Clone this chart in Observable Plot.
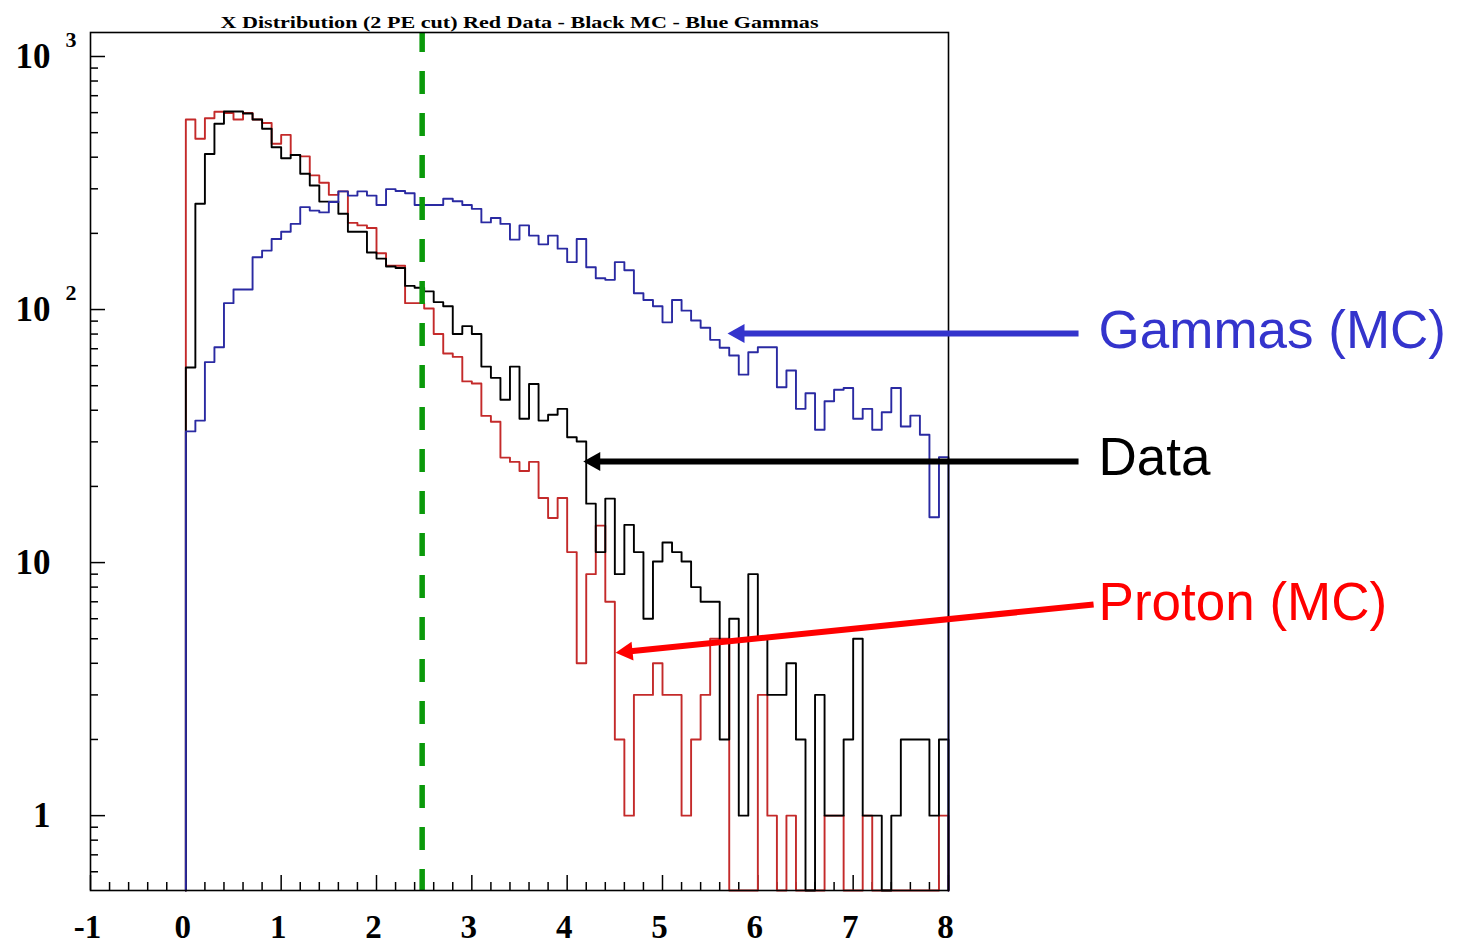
<!DOCTYPE html>
<html><head><meta charset="utf-8">
<script src="https://cdn.jsdelivr.net/npm/d3@7"></script>
<script src="https://cdn.jsdelivr.net/npm/@observablehq/plot@0.6"></script>
<style>
html,body{margin:0;padding:0;background:#fff;}
#chart{width:1464px;height:946px;overflow:hidden;}
</style></head><body><div id="chart"></div>
<script>
// ---- data (counts per 0.1-wide bin, from x = 0 to x = 8) ----
const binStart = 0;
const binWidth = 0.1;
const protonMC = [
  564, 473, 570, 605, 598, 564, 598, 564, 546, 452,
  490, 408, 403, 339, 317, 284, 293, 220, 215, 210,
  167, 149, 149, 106, 106, 101, 80, 67, 65, 52,
  51, 38, 36, 26, 25, 23, 25, 18, 15, 18,
  11, 4, 9, 14, 7, 2, 1, 3, 3, 4,
  3, 3, 1, 2, 3, 5, 5, 0, 0, 0,
  3, 1, 0, 1, 0, 0, 0, 1, 1, 0,
  0, 1, 0, 0, 0, 0, 0, 0, 0, 1
];
const dataCounts = [
  59, 262, 412, 542, 606, 606, 595, 564, 518, 438,
  396, 408, 344, 309, 267, 267, 239, 203, 203, 168,
  159, 148, 146, 124, 122, 118, 107, 103, 80, 86,
  80, 59.5, 53.7, 44, 59.5, 37, 50.8, 36.4, 38.4, 40.5,
  31.3, 30.1, 17.1, 11, 17.9, 9, 14.1, 11, 6, 10.1,
  12, 11, 10.1, 8, 7, 7, 2, 6, 1, 9,
  5, 3, 3, 4, 2, 0, 3, 1, 1, 2,
  5, 1, 1, 0, 1, 2, 2, 2, 1, 2
];
const gammasMC = [
  33, 36.4, 62, 71, 106, 120, 120, 161, 171, 190,
  203, 218, 254, 246, 242, 266, 293, 282, 293, 282,
  259, 299, 294, 288, 259, 259, 259, 274, 268, 259,
  250, 221, 230, 218, 189, 215, 196, 181, 196, 174,
  154, 190, 147, 133, 131, 154, 143, 116, 109, 103,
  89, 109, 99, 90.5, 84.7, 75.9, 70.6, 65.8, 55.3, 67.8,
  71, 71, 49.3, 57.4, 40.5, 46.7, 33.5, 43.4, 48.2, 49,
  37, 40.5, 33.5, 39.3, 49, 34.5, 38.1, 32, 15.1, 26.1
];
const cutX = [2.5];

const titleText = "X Distribution (2 PE cut) Red Data - Black MC - Blue Gammas";
const xDomain = [-1, 8];
const yDomain = [0.506, 1244];
const xMajor = [-1, 0, 1, 2, 3, 4, 5, 6, 7, 8];
const xTickLabels = ["-1", "0", "1", "2", "3", "4", "5", "6", "7", "8"];
const yMajor = [1, 10, 100, 1000];
const yTickBase = ["1", "10", "10", "10"];
const yTickExp = ["", "", "2", "3"];
const yMinor = [0.6, 0.7, 0.8, 0.9, 2, 3, 4, 5, 6, 7, 8, 9, 20, 30, 40, 50, 60, 70, 80, 90, 200, 300, 400, 500, 600, 700, 800, 900];
const xMinor = d3.range(-10, 81, 2).filter(k => k % 10 !== 0).map(k => k / 10);

// annotations (data coordinates)
const annLabels = ["Gammas (MC)", "Data", "Proton (MC)"];
const annColors = ["#3434cc", "#000000", "#ff0000"];
const annX = [9.574, 9.574, 9.574];
const annY = [82.6, 25.8, 6.95];
const arrowTailX = [9.364, 9.364, 9.522];
const arrowTailY = [80.4, 25.1, 6.83];
const arrowTipX = [5.682, 4.169, 4.508];
const arrowTipY = [80.4, 25.1, 4.40];
const arrowAngle = [180, 180, 174.2];

// ---- build step outlines ----
const floor = yDomain[0];
function steps(values) {
  const pts = [{x: binStart, y: floor}];
  values.forEach((v, i) => pts.push({x: binStart + i * binWidth, y: v > 0 ? v : floor}));
  const end = binStart + values.length * binWidth;
  pts.push({x: end, y: values[values.length - 1] > 0 ? values[values.length - 1] : floor});
  pts.push({x: end, y: floor});
  return pts;
}

const serif = "'Liberation Serif', 'DejaVu Serif', serif";
const sans = "'Liberation Sans', Arial, sans-serif";
const frameW = 858, frameH = 858;

const headSymbol = {draw(ctx) { ctx.moveTo(0, 0); ctx.lineTo(-17, -9.5); ctx.lineTo(-17, 9.5); ctx.closePath(); }};

const annMarks = [];
annLabels.forEach((lab, i) => {
  annMarks.push(Plot.arrow([0], {x1: () => arrowTailX[i], y1: () => arrowTailY[i], x2: () => arrowTipX[i], y2: () => arrowTipY[i],
    stroke: annColors[i], strokeWidth: 6, headLength: 0, insetEnd: 10, strokeLinecap: "butt"}));
  annMarks.push(Plot.dot([0], {x: () => arrowTipX[i], y: () => arrowTipY[i], symbol: headSymbol, r: 7, fill: annColors[i], stroke: "none", rotate: arrowAngle[i]}));
  annMarks.push(Plot.text([lab], {x: () => annX[i], y: () => annY[i], text: d => d, textAnchor: "start", lineAnchor: "middle",
    fill: annColors[i], fontSize: 53, fontFamily: sans}));
});

const plot = Plot.plot({
  width: 1464,
  height: 946,
  marginLeft: 90,
  marginRight: 516,
  marginTop: 32,
  marginBottom: 56,
  x: {domain: xDomain, axis: null},
  y: {type: "log", domain: yDomain, axis: null},
  style: {background: "#fff", overflow: "visible"},
  marks: [
    // ticks (inside frame)
    Plot.ruleY(yMajor, {y: d => d, insetRight: frameW - 15, stroke: "#000", strokeWidth: 1.5}),
    Plot.ruleY(yMinor, {y: d => d, insetRight: frameW - 8, stroke: "#000", strokeWidth: 1.5}),
    Plot.ruleX(xMajor, {x: d => d, insetTop: frameH - 15, stroke: "#000", strokeWidth: 1.5}),
    Plot.ruleX(xMinor, {x: d => d, insetTop: frameH - 8, stroke: "#000", strokeWidth: 1.5}),
    // histograms
    Plot.line(steps(protonMC), {x: "x", y: "y", curve: "step-after", stroke: "#c42a2a", strokeWidth: 1.9}),
    Plot.line(steps(dataCounts), {x: "x", y: "y", curve: "step-after", stroke: "#000000", strokeWidth: 1.9}),
    Plot.line(steps(gammasMC), {x: "x", y: "y", curve: "step-after", stroke: "#2a2aa2", strokeWidth: 1.9}),
    // cut line
    Plot.ruleX(cutX, {x: d => d, dx: -2, stroke: "#0a990a", strokeWidth: 5.5, strokeDasharray: "23,19", strokeDashoffset: 3}),
    Plot.frame({stroke: "#000", strokeWidth: 1.6}),
    // axis labels
    Plot.text(yMajor, {y: d => d, text: yTickBase, frameAnchor: "left", textAnchor: "end", dx: -40, fontSize: 35, fontWeight: "bold", fontFamily: serif, fill: "#000"}),
    Plot.text(yMajor, {y: d => d, text: yTickExp, frameAnchor: "left", textAnchor: "start", dx: -25, dy: -17, fontSize: 22, fontWeight: "bold", fontFamily: serif, fill: "#000"}),
    Plot.text(xMajor, {x: d => d, text: xTickLabels, frameAnchor: "bottom", dy: 37, dx: -3, lineAnchor: "middle", fontSize: 33, fontWeight: "bold", fontFamily: serif, fill: "#000"}),
    // title
    Plot.text([titleText], {frameAnchor: "top", dy: -17, text: d => d, fontSize: 17, fontWeight: "bold", fontFamily: serif, fill: "#000"}),
    ...annMarks
  ]
});
document.getElementById("chart").appendChild(plot);
d3.select(plot).selectAll("text")
  .filter(function() { return this.textContent === titleText; })
  .attr("textLength", 598)
  .attr("lengthAdjust", "spacingAndGlyphs");
</script>
</body></html>
